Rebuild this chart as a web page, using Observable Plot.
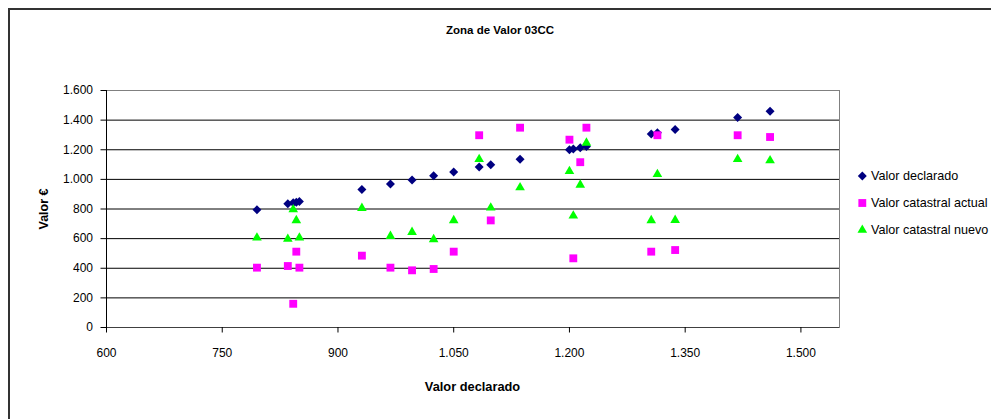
<!DOCTYPE html>
<html>
<head>
<meta charset="utf-8">
<script src="https://cdn.jsdelivr.net/npm/d3@7"></script>
<script src="https://cdn.jsdelivr.net/npm/@observablehq/plot@0.6"></script>
<style>
  html, body { margin: 0; padding: 0; background: #fff; }
  #chart { width: 991px; height: 419px; overflow: hidden; }
</style>
</head>
<body>
<div id="chart"></div>
<script>
// Valores por inmueble (€): declarado, catastral actual y catastral nuevo
const valorDeclarado  = [795, 835, 842, 846, 850, 931, 968, 996, 1024, 1050, 1083, 1098, 1136, 1200, 1205, 1214, 1222, 1306, 1314, 1337, 1418, 1460];
const catastralActual = [404, 415, 160, 512, 404, 485, 404, 386, 395, 512, 1298, 723, 1349, 1268, 467, 1116, 1349, 512, 1298, 523, 1298, 1286];
const catastralNuevo  = [606, 597, 797, 723, 606, 806, 617, 644, 595, 723, 1136, 808, 945, 1055, 754, 963, 1246, 723, 1035, 725, 1136, 1127];

const xTicks = [600, 750, 900, 1050, 1200, 1350, 1500];
const yTicks = [0, 200, 400, 600, 800, 1000, 1200, 1400, 1600];

const titulo = "Zona de Valor 03CC";
const tituloX = "Valor declarado";
const tituloY = "Valor €";
const series = [
  {name: "Valor declarado",        symbol: "diamond2",  r: 4.05, color: "#000080", key: "declarado"},
  {name: "Valor catastral actual", symbol: "square2",   r: 5.0,  color: "#FF00FF", key: "actual"},
  {name: "Valor catastral nuevo",  symbol: "triangle2", r: 4.6,  color: "#00FF00", key: "nuevo"}
];

const fmt = d3.formatLocale({decimal: ",", thousands: ".", grouping: [3], currency: ["", " €"]}).format(",");

const rows = valorDeclarado.map((v, i) => ({
  x: v, declarado: v, actual: catastralActual[i], nuevo: catastralNuevo[i]
}));

const font = "'Liberation Sans', Arial, Helvetica, sans-serif";

const svg = Plot.plot({
  width: 991,
  height: 419,
  marginLeft: 106,
  marginRight: 152,
  marginTop: 90,
  marginBottom: 92,
  inset: 0,
  style: {fontFamily: font, fontSize: "12px", background: "#fff", color: "#000"},
  x: {domain: [600, 1550]},
  y: {domain: [0, 1600]},
  marks: [
    Plot.gridY(yTicks.filter(d => d > 0 && d < 1600), {stroke: "#000", strokeOpacity: 1}),
    Plot.frame({stroke: "#808080"}),
    Plot.ruleY([0], {stroke: "#404040"}),
    Plot.ruleX([600], {stroke: "#000"}),
    Plot.axisY({ticks: yTicks, tickFormat: fmt, tickSize: 5.5, tickPadding: 8, label: null, fontSize: 12}),
    Plot.axisX({ticks: xTicks, tickFormat: fmt, tickSize: 5.5, tickPadding: 15.5, label: null, fontSize: 12}),
    ...series.map(s => Plot.dot(rows, {
      x: "x", y: s.key, symbol: s.symbol, r: s.r, fill: s.color, stroke: null
    }))
  ]
});

const g = d3.select(svg);

// Marco exterior del gráfico
g.append("rect")
  .attr("x", 9).attr("y", 9).attr("width", 1100).attr("height", 600)
  .attr("fill", "none").attr("stroke", "#333").attr("stroke-width", 2);

// Títulos
g.append("text").text(titulo)
  .attr("x", 500).attr("y", 30).attr("text-anchor", "middle").attr("dominant-baseline", "central")
  .attr("font-family", font).attr("font-size", 11.5).attr("font-weight", "bold");
g.append("text").text(tituloX)
  .attr("x", 472.5).attr("y", 386).attr("text-anchor", "middle").attr("dominant-baseline", "central")
  .attr("font-family", font).attr("font-size", 12.8).attr("font-weight", "bold");
g.append("text").text(tituloY)
  .attr("transform", "translate(44,209) rotate(-90)").attr("text-anchor", "middle").attr("dominant-baseline", "central")
  .attr("font-family", font).attr("font-size", 12.5).attr("font-weight", "bold");

// Leyenda
const symbolTypes = {diamond2: d3.symbolDiamond2, square2: d3.symbolSquare2, triangle2: d3.symbolTriangle2};
const legend = g.append("g").attr("text-anchor", "start");
series.forEach((s, i) => {
  const y = 176 + i * 27;
  legend.append("path")
    .attr("d", d3.symbol(symbolTypes[s.symbol], Math.PI * s.r * s.r)())
    .attr("transform", `translate(862.3,${y})`)
    .attr("fill", s.color);
  legend.append("text").text(s.name)
    .attr("x", 871).attr("y", y).attr("dominant-baseline", "central")
    .attr("text-anchor", "start")
    .attr("font-family", font).attr("font-size", 12.6);
});

document.getElementById("chart").appendChild(svg);
</script>
</body>
</html>
